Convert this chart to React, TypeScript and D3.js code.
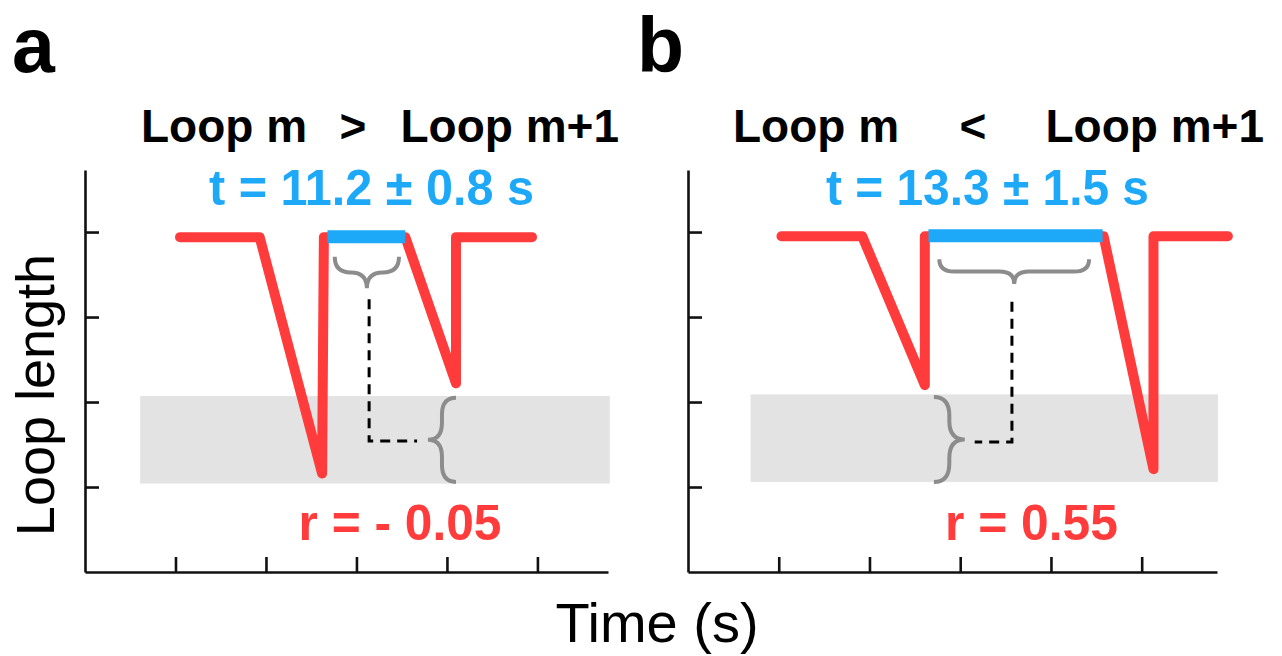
import React, { useRef, useEffect } from 'react';
import * as d3 from 'd3';

// ---------- data (axis units: x in ticks, y in ticks) ----------
const xTicks = [1, 2, 3, 4, 5];
const yTicks = [1, 2, 3, 4];

// panel a : Loop m > Loop m+1
const loopA: [number, number][] = [
  [1.05, 3.94], [1.93, 3.94], [2.62, 1.16], [2.64, 3.94],
  [3.54, 3.94], [4.10, 2.22], [4.10, 3.94], [4.94, 3.94],
];
const waitA = [2.68, 3.54];
const bandXA = [0.61, 5.8];
const bandYA = [1.04, 2.07];
const topBraceA = [2.76, 3.47, 3.71, 3.34]; // x0, x1, yEnds, yTip
const sideBraceA = [1.06, 2.05, 4.1, 3.79]; // y0, y1, xEnds, xTip
const dashA: [number, number][] = [[3.14, 3.21], [3.14, 1.54], [3.67, 1.54]];

// panel b : Loop m < Loop m+1
const loopB: [number, number][] = [
  [1.03, 3.95], [1.92, 3.95], [2.61, 2.2], [2.61, 3.95],
  [4.58, 3.95], [5.13, 1.21], [5.13, 3.95], [5.95, 3.95],
];
const waitB = [2.65, 4.57];
const bandXB = [0.69, 5.84];
const bandYB = [1.06, 2.09];
const topBraceB = [2.77, 4.42, 3.68, 3.39];
const sideBraceB = [1.06, 2.06, 2.71, 3.05];
const dashB: [number, number][] = [[3.57, 3.18], [3.57, 1.53], [3.16, 1.53]];

const titlesA = ['Loop m', '>', 'Loop m+1'];
const titlesB = ['Loop m', '<', 'Loop m+1'];
const statsA = ['t = 11.2 ± 0.8 s', 'r = - 0.05'];
const statsB = ['t = 13.3 ± 1.5 s', 'r = 0.55'];

const RED = '#ff3b3b';
const BLUE = '#1ea9f8';
const GREY = '#8c8c8c';
const FONT = '"Liberation Sans", Arial, Helvetica, sans-serif';

const braceH = (x0: number, x1: number, y: number, tip: number) => {
  const h = (tip - y) / 2;
  const xm = (x0 + x1) / 2;
  const r = Math.min(Math.abs(tip - y) * 0.6, (x1 - x0) / 4);
  return `M${x0},${y}Q${x0},${y + h} ${x0 + r},${y + h}L${xm - r},${y + h}Q${xm},${y + h} ${xm},${tip}` +
    `M${x1},${y}Q${x1},${y + h} ${x1 - r},${y + h}L${xm + r},${y + h}Q${xm},${y + h} ${xm},${tip}`;
};
const braceV = (y0: number, y1: number, x: number, tip: number) => {
  const h = (tip - x) / 2;
  const ym = (y0 + y1) / 2;
  const r = Math.min(Math.abs(tip - x) * 0.6, (y1 - y0) / 4);
  return `M${x},${y0}Q${x + h},${y0} ${x + h},${y0 + r}L${x + h},${ym - r}Q${x + h},${ym} ${tip},${ym}` +
    `M${x},${y1}Q${x + h},${y1} ${x + h},${y1 - r}L${x + h},${ym + r}Q${x + h},${ym} ${tip},${ym}`;
};

function Panel({ x0, x1, xMax, loop, wait, bandX, bandY, topBrace, sideBrace, dash }: any) {
  const gx = useRef<SVGGElement>(null);
  const gy = useRef<SVGGElement>(null);
  const x = d3.scaleLinear().domain([0, xMax]).range([x0, x1]);
  const y = d3.scaleLinear().domain([0, 4.73]).range([572, 170]);

  useEffect(() => {
    const xa = d3.select(gx.current!)
      .call(d3.axisBottom(x).tickValues(xTicks).tickSizeInner(-15).tickSizeOuter(0).tickFormat(() => ''));
    const ya = d3.select(gy.current!)
      .call(d3.axisLeft(y).tickValues(yTicks).tickSizeInner(-14).tickSizeOuter(0).tickFormat(() => ''));
    [xa, ya].forEach(a => {
      a.selectAll('path,line').attr('stroke', '#111').attr('stroke-width', 2.6);
    });
  }, []);

  const line = d3.line<[number, number]>().x(d => x(d[0])).y(d => y(d[1]));

  return (
    <g>
      <rect x={x(bandX[0])} width={x(bandX[1]) - x(bandX[0])} y={y(bandY[1])} height={y(bandY[0]) - y(bandY[1])} fill="#e3e3e3" />
      <g ref={gx} transform="translate(0,572)" />
      <g ref={gy} transform={`translate(${x0},0)`} />
      <path d={line(loop)!} fill="none" stroke={RED} strokeWidth={10} strokeLinejoin="round" strokeLinecap="round" />
      <line x1={x(wait[0])} x2={x(wait[1])} y1={y(loop[0][1]) - 0.5} y2={y(loop[0][1]) - 0.5} stroke={BLUE} strokeWidth={13} />
      <path d={braceH(x(topBrace[0]), x(topBrace[1]), y(topBrace[2]), y(topBrace[3]))} fill="none" stroke={GREY} strokeWidth={4} />
      <path d={braceV(y(sideBrace[1]), y(sideBrace[0]), x(sideBrace[2]), x(sideBrace[3]))} fill="none" stroke={GREY} strokeWidth={4} />
      <path d={line(dash)!} fill="none" stroke="#000" strokeWidth={3} strokeDasharray="10 7" />
    </g>
  );
}

export default function App() {
  const bold = { fontFamily: FONT, fontWeight: 700 } as const;
  return (
    <svg width={1282} height={656} style={{ position: 'absolute', left: 0, top: 0, background: '#fff' }}>
      <Panel x0={85} x1={608} xMax={5.78} loop={loopA} wait={waitA} bandX={bandXA} bandY={bandYA}
        topBrace={topBraceA} sideBrace={sideBraceA} dash={dashA} />
      <Panel x0={688} x1={1217} xMax={5.83} loop={loopB} wait={waitB} bandX={bandXB} bandY={bandYB}
        topBrace={topBraceB} sideBrace={sideBraceB} dash={dashB} />

      <text x={12} y={72} fontSize={77} {...bold}>a</text>
      <text x={637} y={72} fontSize={77} {...bold}>b</text>

      <g fontSize={46} {...bold}>
        <text x={141} y={142}>{titlesA[0]}</text>
        <text x={353} y={142} textAnchor="middle">{titlesA[1]}</text>
        <text x={619} y={142} textAnchor="end">{titlesA[2]}</text>
        <text x={733} y={142}>{titlesB[0]}</text>
        <text x={973} y={142} textAnchor="middle">{titlesB[1]}</text>
        <text x={1264} y={142} textAnchor="end">{titlesB[2]}</text>
      </g>

      <g fontSize={50} {...bold} textAnchor="middle">
        <text x={371.5} y={205} fill={BLUE} textLength={325} lengthAdjust="spacingAndGlyphs">{statsA[0]}</text>
        <text x={987.5} y={205} fill={BLUE} textLength={323} lengthAdjust="spacingAndGlyphs">{statsB[0]}</text>
        <text x={400} y={540} fill={RED} textLength={203} lengthAdjust="spacingAndGlyphs">{statsA[1]}</text>
        <text x={1031.5} y={540} fill={RED} textLength={173} lengthAdjust="spacingAndGlyphs">{statsB[1]}</text>
      </g>

      <text transform="translate(54,395) rotate(-90)" textAnchor="middle" fontSize={54} fontFamily={FONT}>Loop length</text>
      <text x={657} y={642} textAnchor="middle" fontSize={56} fontFamily={FONT}>Time (s)</text>
    </svg>
  );
}
